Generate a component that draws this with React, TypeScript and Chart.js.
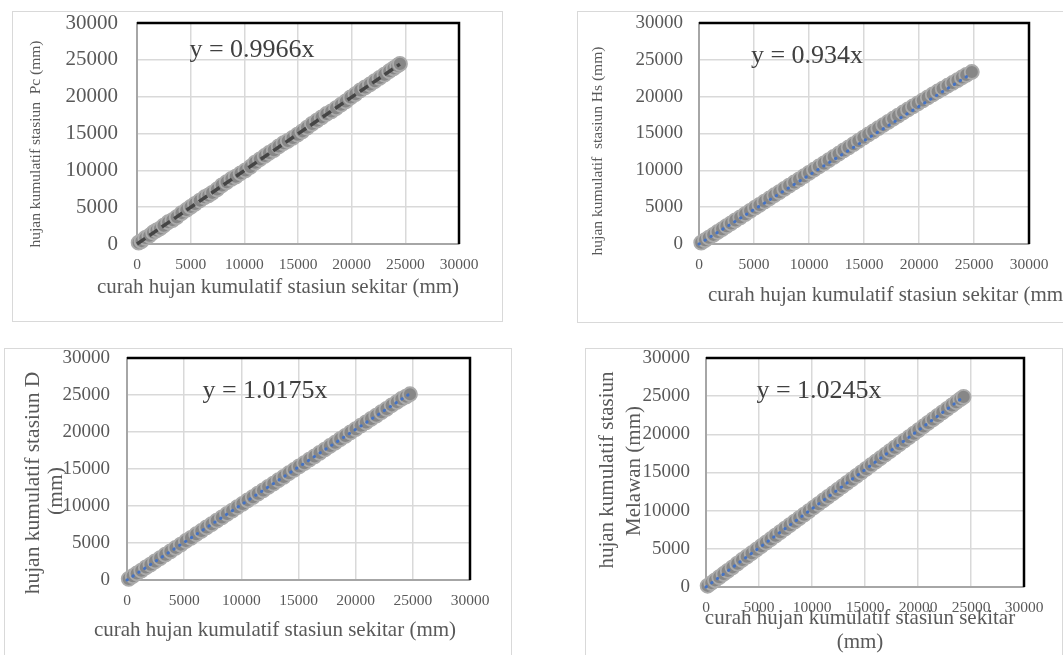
import React, { useEffect, useRef } from "react";
import { Chart, registerables } from "chart.js";

Chart.register(...registerables);

const FONT = "'Liberation Serif', 'Times New Roman', serif";

// ---- axis ticks ----
const tickValues = [0, 5000, 10000, 15000, 20000, 25000, 30000];
const tickLabels = ["0", "5000", "10000", "15000", "20000", "25000", "30000"];

// ---- station Pc ----
const pcX = [150, 420, 780, 1150, 1500, 1820, 2150, 2480, 2900, 3300, 3700, 4150, 4600, 5000, 5400, 5850, 6300, 6650, 7000, 7450, 7900, 8350, 8800, 9200, 9650, 10100, 10550, 11000, 11450, 11900, 12300, 12750, 13200, 13650, 14050, 14500, 14950, 15400, 15850, 16300, 16750, 17200, 17650, 18100, 18550, 19000, 19450, 19900, 20350, 20800, 21250, 21700, 22150, 22600, 23050, 23500, 23900, 24250, 24500];
const pcY = [180, 400, 820, 1120, 1560, 1850, 2100, 2500, 2950, 3250, 3650, 4200, 4620, 5050, 5450, 5900, 6350, 6600, 6950, 7400, 7950, 8400, 8850, 9150, 9600, 10000, 10450, 11050, 11500, 11950, 12350, 12750, 13250, 13700, 14000, 14400, 14850, 15300, 15800, 16300, 16750, 17200, 17650, 18000, 18450, 18900, 19350, 19900, 20350, 20850, 21250, 21650, 22100, 22550, 23000, 23450, 23850, 24200, 24450];
const pcSlope = 0.9966;

// ---- station Hs ----
const hsX = [200, 550, 900, 1300, 1700, 2100, 2500, 2900, 3300, 3750, 4200, 4650, 5100, 5500, 5950, 6400, 6850, 7300, 7750, 8200, 8650, 9100, 9550, 10000, 10450, 10900, 11350, 11800, 12250, 12700, 13150, 13600, 14050, 14500, 14950, 15400, 15850, 16300, 16750, 17200, 17650, 18100, 18550, 19000, 19450, 19900, 20350, 20800, 21250, 21700, 22150, 22600, 23050, 23500, 23900, 24300, 24800];
const hsY = [190, 530, 870, 1250, 1640, 2020, 2420, 2800, 3200, 3620, 4060, 4500, 4930, 5300, 5750, 6180, 6620, 7050, 7480, 7920, 8350, 8780, 9220, 9650, 10080, 10520, 10950, 11380, 11820, 12250, 12700, 13120, 13560, 14000, 14450, 14880, 15300, 15720, 16150, 16580, 17000, 17420, 17850, 18270, 18680, 19100, 19500, 19900, 20300, 20700, 21100, 21480, 21860, 22240, 22600, 22950, 23350];
const hsSlope = 0.934;

// ---- station D ----
const dX = [150, 500, 850, 1250, 1650, 2050, 2450, 2900, 3350, 3800, 4250, 4700, 5150, 5600, 6050, 6500, 6950, 7400, 7850, 8300, 8750, 9200, 9650, 10100, 10550, 11000, 11450, 11900, 12350, 12800, 13250, 13700, 14150, 14600, 15050, 15500, 15950, 16400, 16850, 17300, 17750, 18200, 18650, 19100, 19550, 20000, 20450, 20900, 21350, 21800, 22250, 22700, 23150, 23600, 24000, 24400, 24750];
const dY = [160, 520, 880, 1270, 1700, 2080, 2510, 2950, 3430, 3870, 4350, 4790, 5270, 5700, 6180, 6620, 7100, 7540, 8020, 8460, 8940, 9380, 9850, 10290, 10770, 11200, 11680, 12110, 12590, 13020, 13500, 13940, 14430, 14870, 15350, 15790, 16270, 16710, 17190, 17630, 18110, 18550, 19030, 19470, 19950, 20390, 20870, 21300, 21770, 22210, 22690, 23130, 23610, 24050, 24460, 24790, 25100];
const dSlope = 1.0175;

// ---- station Melawan ----
const mX = [150, 500, 850, 1250, 1650, 2050, 2500, 2950, 3400, 3850, 4300, 4750, 5200, 5650, 6100, 6550, 7000, 7450, 7900, 8350, 8800, 9250, 9700, 10150, 10600, 11050, 11500, 11950, 12400, 12850, 13300, 13750, 14200, 14650, 15100, 15550, 16000, 16450, 16900, 17350, 17800, 18250, 18700, 19150, 19600, 20050, 20500, 20950, 21400, 21850, 22300, 22750, 23200, 23600, 24000, 24300];
const mY = [160, 520, 880, 1290, 1700, 2110, 2580, 3060, 3540, 3970, 4420, 4880, 5340, 5800, 6260, 6720, 7180, 7640, 8100, 8560, 9020, 9480, 9950, 10410, 10870, 11330, 11790, 12250, 12710, 13170, 13640, 14100, 14560, 15020, 15480, 15950, 16410, 16870, 17330, 17790, 18260, 18720, 19180, 19640, 20100, 20560, 21030, 21490, 21950, 22410, 22870, 23330, 23790, 24200, 24610, 24900];
const mSlope = 1.0245;

type TextItem = {
  text: string;
  x: number;
  y: number;
  size: number;
  color?: string;
  align?: CanvasTextAlign;
  baseline?: CanvasTextBaseline;
  rotate?: boolean;
};

type PanelSpec = {
  xs: number[];
  ys: number[];
  slope: number;
  trend: "dash" | "dot";
  box: { x: number; y: number; w: number; h: number };
  canvas: { x: number; y: number; w: number; h: number };
  area: { left: number; top: number; right: number; bottom: number };
  yTickSize: number;
  yTickPad: number;
  xTickPad: number;
  texts: TextItem[];
};

const framePlugin = {
  id: "frameTopRight",
  beforeDatasetsDraw(chart: any) {
    const { ctx, chartArea: a } = chart;
    ctx.save();
    ctx.strokeStyle = "#000000";
    ctx.lineWidth = 2.5;
    ctx.beginPath();
    ctx.moveTo(a.left, a.top);
    ctx.lineTo(a.right, a.top);
    ctx.lineTo(a.right, a.bottom);
    ctx.stroke();
    ctx.restore();
  },
};

const textPlugin = {
  id: "panelTexts",
  afterDraw(chart: any, _args: any, opts: any) {
    const { ctx } = chart;
    const items: TextItem[] = opts.items || [];
    items.forEach((t) => {
      ctx.save();
      ctx.font = `${t.size}px ${FONT}`;
      ctx.fillStyle = t.color || "#595959";
      ctx.textAlign = t.align || "center";
      ctx.textBaseline = t.baseline || "middle";
      ctx.translate(t.x, t.y);
      if (t.rotate) ctx.rotate(-Math.PI / 2);
      ctx.fillText(t.text, 0, 0);
      ctx.restore();
    });
  },
};

function buildConfig(s: PanelSpec): any {
  const pts = s.xs.map((x, i) => ({ x, y: s.ys[i] }));
  const maxX = s.xs[s.xs.length - 1];
  const trendPts = [
    { x: 0, y: 0 },
    { x: maxX, y: s.slope * maxX },
  ];
  const trendDs =
    s.trend === "dash"
      ? { borderColor: "#454545", borderWidth: 3.5, borderDash: [10, 5] }
      : { borderColor: "#4472c4", borderWidth: 3, borderDash: [0.5, 6.5], borderCapStyle: "round" };
  const yW = s.area.left;
  const xH = s.canvas.h - s.area.bottom;
  return {
    type: "scatter",
    data: {
      datasets: [
        {
          type: "line",
          label: "trend",
          data: trendPts,
          showLine: true,
          pointRadius: 0,
          fill: false,
          order: 0,
          clip: false,
          ...trendDs,
        },
        {
          label: "data",
          data: pts,
          pointRadius: 7,
          pointBackgroundColor: "#878787",
          pointBorderColor: "#ababab",
          pointBorderWidth: 1.8,
          order: 1,
          clip: false,
        },
      ],
    },
    options: {
      animation: false,
      responsive: false,
      devicePixelRatio: 1,
      layout: {
        padding: {
          left: 0,
          top: s.area.top,
          right: s.canvas.w - s.area.right,
          bottom: 0,
        },
      },
      plugins: {
        legend: { display: false },
        tooltip: { enabled: false },
        panelTexts: { items: s.texts },
      },
      scales: {
        x: {
          type: "linear",
          min: 0,
          max: 30000,
          afterBuildTicks: (sc: any) => {
            sc.ticks = tickValues.map((v) => ({ value: v }));
          },
          ticks: {
            callback: (_v: any, i: number) => tickLabels[i],
            font: { family: FONT, size: 15.5, lineHeight: 1 },
            color: "#595959",
            padding: 0,
            maxRotation: 0,
            autoSkip: false,
          },
          grid: {
            color: "#d9d9d9",
            lineWidth: 1.5,
            drawTicks: true,
            tickLength: s.xTickPad,
            tickColor: "rgba(0,0,0,0)",
          },
          border: { color: "#a6a6a6", width: 2 },
          afterFit: (sc: any) => {
            sc.height = xH;
          },
        },
        y: {
          type: "linear",
          min: 0,
          max: 30000,
          afterBuildTicks: (sc: any) => {
            sc.ticks = tickValues.map((v) => ({ value: v }));
          },
          ticks: {
            callback: (_v: any, i: number) => tickLabels[i],
            font: { family: FONT, size: s.yTickSize, lineHeight: 1 },
            color: "#595959",
            padding: 0,
            autoSkip: false,
          },
          grid: {
            color: "#d9d9d9",
            lineWidth: 1.5,
            drawTicks: true,
            tickLength: s.yTickPad,
            tickColor: "rgba(0,0,0,0)",
          },
          border: { color: "#a6a6a6", width: 2 },
          afterFit: (sc: any) => {
            sc.width = yW;
          },
        },
      },
    },
    plugins: [framePlugin, textPlugin],
  };
}

const X_TITLE = "curah hujan kumulatif stasiun sekitar (mm)";

const panels: PanelSpec[] = [
  {
    xs: pcX,
    ys: pcY,
    slope: pcSlope,
    trend: "dash",
    box: { x: 12, y: 11, w: 491, h: 311 },
    canvas: { x: 12, y: 11, w: 491, h: 311 },
    area: { left: 125, top: 12, right: 447, bottom: 233 },
    yTickSize: 21,
    yTickPad: 19,
    xTickPad: 13,
    texts: [
      { text: "y = 0.9966x", x: 240, y: 46, size: 26, color: "#404040", baseline: "alphabetic" },
      { text: X_TITLE, x: 266, y: 276, size: 21 },
      { text: "hujan kumulatif stasiun  Pc (mm)", x: 24, y: 133, size: 15.5, rotate: true },
    ],
  },
  {
    xs: hsX,
    ys: hsY,
    slope: hsSlope,
    trend: "dot",
    box: { x: 577, y: 11, w: 520, h: 312 },
    canvas: { x: 577, y: 11, w: 486, h: 312 },
    area: { left: 122, top: 12, right: 452, bottom: 233 },
    yTickSize: 19,
    yTickPad: 16,
    xTickPad: 13,
    texts: [
      { text: "y = 0.934x", x: 230, y: 52, size: 26, color: "#404040", baseline: "alphabetic" },
      { text: X_TITLE, x: 131, y: 284, size: 21, align: "left" },
      { text: "hujan kumulatif  stasiun Hs (mm)", x: 21, y: 140, size: 15.5, rotate: true },
    ],
  },
  {
    xs: dX,
    ys: dY,
    slope: dSlope,
    trend: "dot",
    box: { x: 4, y: 348, w: 508, h: 330 },
    canvas: { x: 4, y: 348, w: 508, h: 307 },
    area: { left: 123, top: 10, right: 466, bottom: 232 },
    yTickSize: 19,
    yTickPad: 17,
    xTickPad: 13,
    texts: [
      { text: "y = 1.0175x", x: 261, y: 50, size: 26, color: "#404040", baseline: "alphabetic" },
      { text: X_TITLE, x: 271, y: 282, size: 21 },
      { text: "hujan kumulatif stasiun D", x: 29, y: 135, size: 21.5, rotate: true },
      { text: "(mm)", x: 52, y: 143, size: 21.5, rotate: true },
    ],
  },
  {
    xs: mX,
    ys: mY,
    slope: mSlope,
    trend: "dot",
    box: { x: 585, y: 348, w: 478, h: 330 },
    canvas: { x: 585, y: 348, w: 477, h: 307 },
    area: { left: 121, top: 10, right: 439, bottom: 239 },
    yTickSize: 19,
    yTickPad: 16,
    xTickPad: 13,
    texts: [
      { text: "y = 1.0245x", x: 234, y: 50, size: 26, color: "#404040", baseline: "alphabetic" },
      { text: "curah hujan kumulatif stasiun sekitar", x: 275, y: 270, size: 21 },
      { text: "(mm)", x: 275, y: 294, size: 21 },
      { text: "hujan kumulatif stasiun", x: 22.5, y: 122, size: 21, rotate: true },
      { text: "Melawan (mm)", x: 49, y: 123, size: 21, rotate: true },
    ],
  },
];

function Panel({ spec }: { spec: PanelSpec }) {
  const ref = useRef<HTMLCanvasElement | null>(null);
  useEffect(() => {
    if (!ref.current) return;
    const chart = new Chart(ref.current, buildConfig(spec));
    return () => chart.destroy();
  }, [spec]);
  return (
    <>
      <div
        style={{
          position: "absolute",
          left: spec.box.x,
          top: spec.box.y,
          width: spec.box.w,
          height: spec.box.h,
          border: "1px solid #d9d9d9",
          boxSizing: "border-box",
        }}
      />
      <canvas
        ref={ref}
        width={spec.canvas.w}
        height={spec.canvas.h}
        style={{
          position: "absolute",
          left: spec.canvas.x,
          top: spec.canvas.y,
          width: spec.canvas.w,
          height: spec.canvas.h,
        }}
      />
    </>
  );
}

export default function App() {
  return (
    <div
      style={{
        position: "fixed",
        left: 0,
        top: 0,
        width: 1063,
        height: 655,
        overflow: "hidden",
        background: "#ffffff",
      }}
    >
      {panels.map((p, i) => (
        <Panel key={i} spec={p} />
      ))}
    </div>
  );
}
